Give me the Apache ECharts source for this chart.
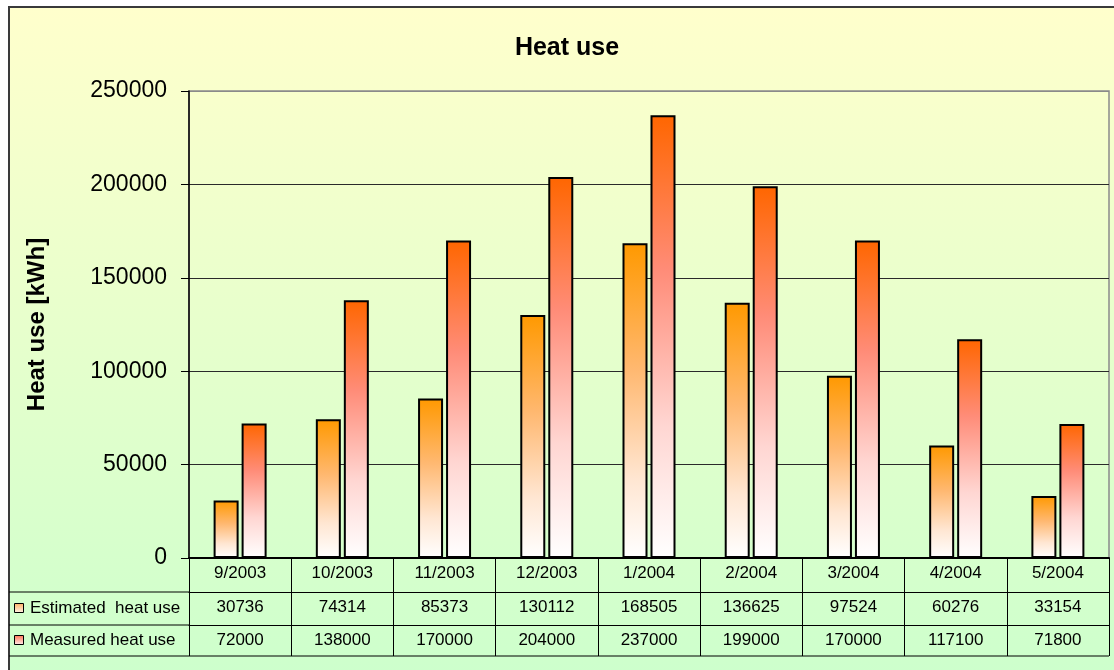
<!DOCTYPE html>
<html>
<head>
<meta charset="utf-8">
<script src="https://cdn.jsdelivr.net/npm/echarts@6/dist/echarts.min.js"></script>
<style>
  html, body { margin: 0; padding: 0; background: #ffffff; overflow: hidden; }
  #frame {
    position: absolute; left: 8px; top: 6px; width: 1120px; height: 680px;
    border-left: 2px solid #3a3a3a; border-top: 2px solid #3a3a3a;
    background: linear-gradient(to bottom, #FFFFCC 0%, #CCFFCC 100%);
  }
  #chart { position: absolute; left: 0; top: 0; width: 1114px; height: 670px; }
</style>
</head>
<body>
<div id="frame"></div>
<div id="chart"></div>
<script>
// Monthly heat use, Sept 2003 - May 2004
const categories = ['9/2003', '10/2003', '11/2003', '12/2003', '1/2004', '2/2004', '3/2004', '4/2004', '5/2004'];
const estimated = [30736, 74314, 85373, 130112, 168505, 136625, 97524, 60276, 33154];
const measured = [72000, 138000, 170000, 204000, 237000, 199000, 170000, 117100, 71800];
const seriesNames = ['Estimated  heat use', 'Measured heat use'];
const yMin = 0, yMax = 250000, yStep = 50000;

// layout
const GRID_LEFT = 189, GRID_RIGHT_X = 1109, GRID_TOP = 91, GRID_BOTTOM_Y = 558;
const ROW1 = 34, ROW2 = 67, TABLE_BOTTOM = 656, FRAME_LEFT = 9;
const FONT = '"Liberation Sans", Arial, sans-serif';

function barFill(stops) {
  return new echarts.graphic.LinearGradient(0, 0, 0, 1,
    stops.map(s => ({ offset: s[0], color: s[1] })));
}
const estStops = [[0, '#FF9900'], [0.4, '#FFB870'], [0.75, '#FFE6D2'], [1, '#FFFFFF']];
const meaStops = [[0, '#FF6600'], [0.35, '#FF8C78'], [0.7, '#FFD6D2'], [1, '#FFFFFF']];

const chart = echarts.init(document.getElementById('chart'), null, { renderer: 'canvas' });

function tableAxis(offset, values, tickLen) {
  return {
    type: 'category',
    data: categories,
    position: 'bottom',
    offset: offset,
    axisLine: { show: true, lineStyle: { color: '#000', width: 1 } },
    axisTick: { show: true, length: tickLen, interval: 0, lineStyle: { color: '#000', width: 1 } },
    axisLabel: {
      show: true, interval: 0, margin: 7, color: '#000', fontSize: 17, fontFamily: FONT,
      formatter: (v, i) => String(values[i])
    },
    splitLine: { show: false }
  };
}

const option = {
  backgroundColor: 'transparent',
  animation: false,
  title: {
    text: 'Heat use',
    left: 562, top: 31, textAlign: 'center',
    textStyle: { fontSize: 25, fontWeight: 'bold', fontFamily: FONT, color: '#000' }
  },
  grid: {
    left: GRID_LEFT, top: GRID_TOP,
    width: GRID_RIGHT_X - GRID_LEFT, height: GRID_BOTTOM_Y - GRID_TOP,
    show: true, borderColor: '#8a8a8a', borderWidth: 1.5, backgroundColor: 'transparent',
    containLabel: false, outerBoundsMode: 'none'
  },
  xAxis: [
    {
      type: 'category',
      data: categories,
      position: 'bottom',
      axisLine: { show: true, lineStyle: { color: '#000', width: 2 } },
      axisTick: { show: true, length: ROW1, interval: 0, lineStyle: { color: '#000', width: 1 } },
      axisLabel: { show: true, interval: 0, margin: 7, color: '#000', fontSize: 17, fontFamily: FONT },
      splitLine: { show: false }
    },
    tableAxis(ROW1, estimated, ROW2 - ROW1),
    tableAxis(ROW2, measured, TABLE_BOTTOM - GRID_BOTTOM_Y - ROW2)
  ],
  yAxis: {
    type: 'value',
    min: yMin, max: yMax, interval: yStep,
    name: 'Heat use [kWh]',
    nameLocation: 'middle',
    nameRotate: 90,
    nameGap: 140,
    nameTextStyle: { fontSize: 24, fontWeight: 'bold', fontFamily: FONT, color: '#000' },
    axisLine: { show: true, lineStyle: { color: '#000', width: 1.5 } },
    axisTick: { show: true, length: 8, lineStyle: { color: '#000', width: 1 } },
    axisLabel: { margin: 22, color: '#000', fontSize: 23, fontFamily: FONT, formatter: v => String(v) },
    splitLine: { show: true, lineStyle: { color: ['#2a2a2a', '#2a2a2a', '#2a2a2a', '#2a2a2a', '#2a2a2a', '#8a8a8a'], width: 1 } }
  },
  series: [
    {
      name: seriesNames[0], type: 'bar', data: estimated,
      barWidth: 25, barGap: '12%',
      itemStyle: { color: barFill(estStops), borderColor: '#000', borderWidth: 2 },
      z: 3
    },
    {
      name: seriesNames[1], type: 'bar', data: measured,
      barWidth: 25, barGap: '12%',
      itemStyle: { color: barFill(meaStops), borderColor: '#000', borderWidth: 2 },
      z: 3
    }
  ],
  graphic: [
    // left part of the data table rows
    { type: 'line', shape: { x1: FRAME_LEFT, y1: GRID_BOTTOM_Y + ROW1, x2: GRID_LEFT, y2: GRID_BOTTOM_Y + ROW1 }, style: { stroke: '#000', lineWidth: 1 } },
    { type: 'line', shape: { x1: FRAME_LEFT, y1: GRID_BOTTOM_Y + ROW2, x2: GRID_LEFT, y2: GRID_BOTTOM_Y + ROW2 }, style: { stroke: '#000', lineWidth: 1 } },
    { type: 'line', shape: { x1: FRAME_LEFT, y1: TABLE_BOTTOM, x2: GRID_RIGHT_X, y2: TABLE_BOTTOM }, style: { stroke: '#000', lineWidth: 1 } },
    // legend keys inside the table
    { type: 'rect', shape: { x: 14.5, y: 603.5, width: 9, height: 9 },
      style: { fill: barFill([[0, '#FFB060'], [1, '#FFF4EA']]), stroke: '#000', lineWidth: 1 } },
    { type: 'text', style: { text: seriesNames[0], x: 30, y: 608, textVerticalAlign: 'middle', font: '17px ' + FONT, fill: '#000' } },
    { type: 'rect', shape: { x: 14.5, y: 635.5, width: 9, height: 9 },
      style: { fill: barFill([[0, '#FF7050'], [1, '#FFF0F0']]), stroke: '#000', lineWidth: 1 } },
    { type: 'text', style: { text: seriesNames[1], x: 30, y: 640, textVerticalAlign: 'middle', font: '17px ' + FONT, fill: '#000' } }
  ]
};

chart.setOption(option);
</script>
</body>
</html>
